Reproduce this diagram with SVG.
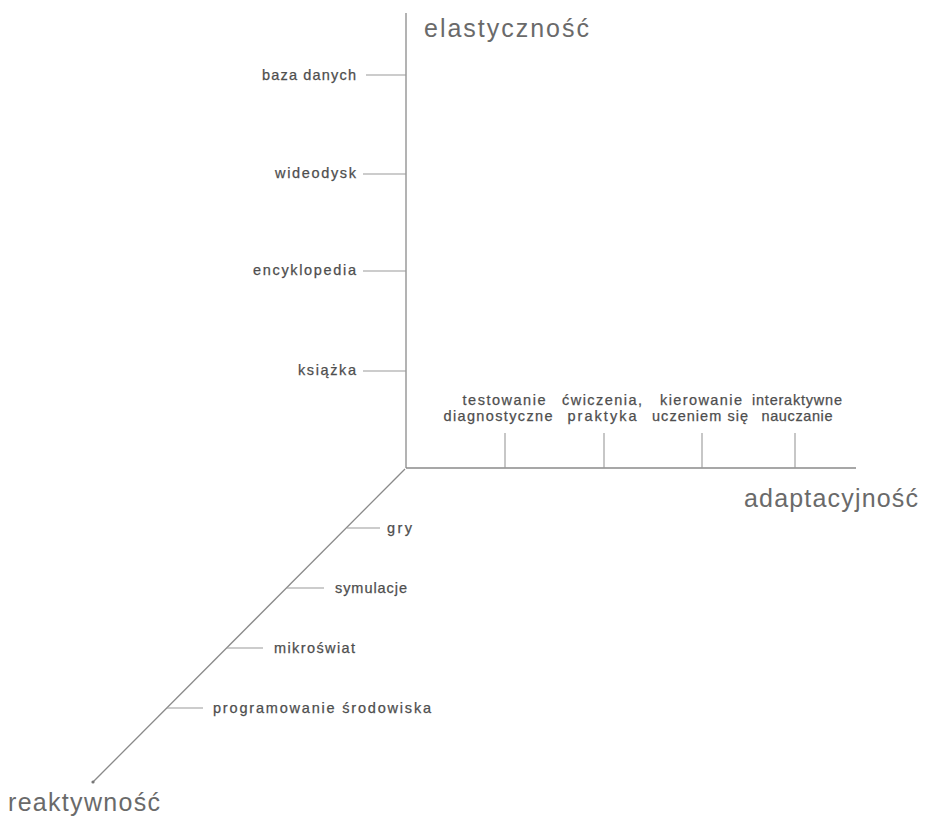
<svg xmlns="http://www.w3.org/2000/svg" width="925" height="820" viewBox="0 0 925 820">
<style>
.ax{stroke:#8a8a8a;stroke-width:1.3;fill:none}
.tk{stroke:#999;stroke-width:1.1;fill:none}
.lb{font-family:"Liberation Sans",Arial,sans-serif;font-size:14.5px;fill:#4e4e4e;stroke:#4e4e4e;stroke-width:0.25}
.big{font-family:"Liberation Sans",Arial,sans-serif;font-size:25px;fill:#6a6a6a}
</style>
<rect width="925" height="820" fill="#fff"/>
<g id="connectors">
<line class="ax" x1="406" y1="13" x2="406" y2="468"/>
<line class="ax" x1="406" y1="468" x2="856" y2="468"/>
<line class="ax" x1="405" y1="469" x2="93" y2="782"/>
<circle cx="93" cy="782" r="1.6" fill="#777"/>
</g>
<g id="axis-elastycznosc"><text class="big" x="424" y="37" textLength="165" lengthAdjust="spacing">elastyczność</text></g>
<g id="axis-adaptacyjnosc"><text class="big" x="744" y="507" textLength="174" lengthAdjust="spacing">adaptacyjność</text></g>
<g id="axis-reaktywnosc"><text class="big" x="8" y="811" textLength="152" lengthAdjust="spacing">reaktywność</text></g>
<g id="baza-danych"><line class="tk" x1="366" y1="75" x2="406" y2="75"/><text class="lb" x="356" y="80" text-anchor="end" textLength="94" lengthAdjust="spacing">baza danych</text></g>
<g id="wideodysk"><line class="tk" x1="363" y1="174" x2="406" y2="174"/><text class="lb" x="356" y="178" text-anchor="end" textLength="81" lengthAdjust="spacing">wideodysk</text></g>
<g id="encyklopedia"><line class="tk" x1="363" y1="271" x2="406" y2="271"/><text class="lb" x="356" y="275" text-anchor="end" textLength="103" lengthAdjust="spacing">encyklopedia</text></g>
<g id="ksiazka"><line class="tk" x1="363" y1="371" x2="406" y2="371"/><text class="lb" x="356" y="375" text-anchor="end" textLength="58" lengthAdjust="spacing">książka</text></g>
<g id="testowanie"><line class="tk" x1="505" y1="433" x2="505" y2="468"/><text class="lb" x="504" y="405" text-anchor="middle" textLength="83" lengthAdjust="spacing">testowanie</text><text class="lb" x="498" y="421" text-anchor="middle" textLength="109" lengthAdjust="spacing">diagnostyczne</text></g>
<g id="cwiczenia"><line class="tk" x1="604" y1="433" x2="604" y2="468"/><text class="lb" x="602" y="405" text-anchor="middle" textLength="80" lengthAdjust="spacing">ćwiczenia,</text><text class="lb" x="602" y="421" text-anchor="middle" textLength="69" lengthAdjust="spacing">praktyka</text></g>
<g id="kierowanie"><line class="tk" x1="702" y1="433" x2="702" y2="468"/><text class="lb" x="701" y="405" text-anchor="middle" textLength="82" lengthAdjust="spacing">kierowanie</text><text class="lb" x="700" y="421" text-anchor="middle" textLength="96" lengthAdjust="spacing">uczeniem się</text></g>
<g id="interaktywne"><line class="tk" x1="795" y1="433" x2="795" y2="468"/><text class="lb" x="797" y="405" text-anchor="middle" textLength="90" lengthAdjust="spacing">interaktywne</text><text class="lb" x="797" y="421" text-anchor="middle" textLength="71" lengthAdjust="spacing">nauczanie</text></g>
<g id="gry"><line class="tk" x1="347" y1="528" x2="380" y2="528"/><text class="lb" x="387" y="533" textLength="25" lengthAdjust="spacing">gry</text></g>
<g id="symulacje"><line class="tk" x1="287" y1="588" x2="324" y2="588"/><text class="lb" x="335" y="593" textLength="72" lengthAdjust="spacing">symulacje</text></g>
<g id="mikroswiat"><line class="tk" x1="227" y1="648" x2="263" y2="648"/><text class="lb" x="274" y="653" textLength="81" lengthAdjust="spacing">mikroświat</text></g>
<g id="programowanie"><line class="tk" x1="167" y1="708" x2="203" y2="708"/><text class="lb" x="213" y="713" textLength="218" lengthAdjust="spacing">programowanie środowiska</text></g>
</svg>
